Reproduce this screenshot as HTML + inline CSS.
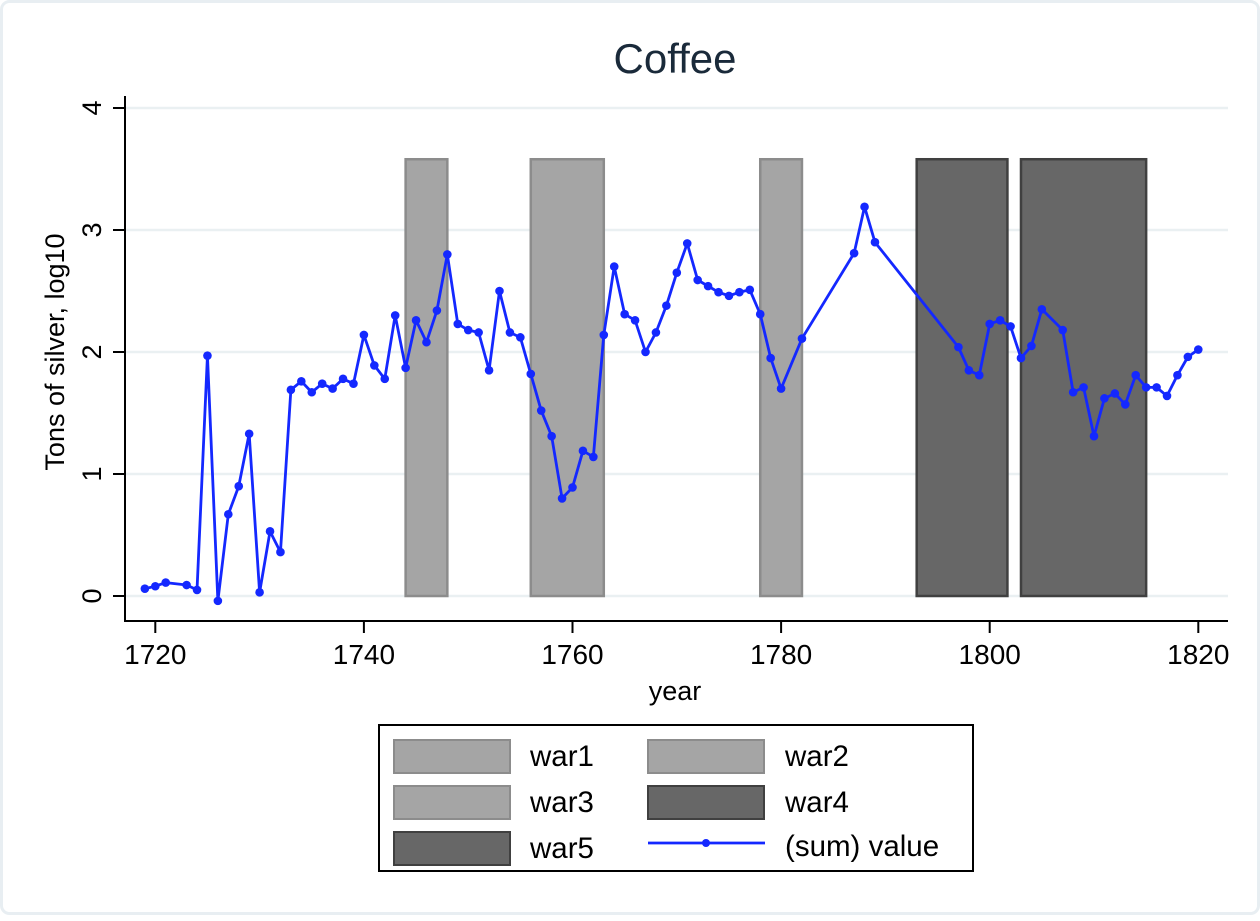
<!DOCTYPE html>
<html><head><meta charset="utf-8"><style>
html,body{margin:0;padding:0;background:#fff;}
svg text{font-family:"Liberation Sans",Arial,sans-serif;}
</style></head><body>
<svg id="chart" width="1260" height="916" xmlns="http://www.w3.org/2000/svg">
<rect x="1.5" y="1.5" width="1257" height="912" rx="8" fill="#fff" stroke="#e8eef2" stroke-width="3"/>
<text x="675" y="73" font-size="42" text-anchor="middle" fill="#1a2a3a">Coffee</text>
<g id="grid"></g>
<g id="wars"></g>
<g id="series"></g>
<g id="axes"></g>
<text transform="translate(64,352) rotate(-90)" font-size="27" text-anchor="middle">Tons of silver, log10</text>
<text x="675" y="700" font-size="27" text-anchor="middle">year</text>
<g>
<rect x="379" y="725" width="594" height="146" fill="#fff" stroke="#000" stroke-width="2"/>
<rect x="394" y="740" width="116" height="33" fill="#a5a5a5" stroke="#8c8c8c" stroke-width="2"/>
<text x="530" y="766" font-size="29.5">war1</text>
<rect x="648" y="740" width="116" height="33" fill="#a5a5a5" stroke="#8c8c8c" stroke-width="2"/>
<text x="785" y="766" font-size="29.5">war2</text>
<rect x="394" y="786" width="116" height="33" fill="#a5a5a5" stroke="#8c8c8c" stroke-width="2"/>
<text x="530" y="812" font-size="29.5">war3</text>
<rect x="648" y="786" width="116" height="33" fill="#676767" stroke="#404040" stroke-width="2"/>
<text x="785" y="812" font-size="29.5">war4</text>
<rect x="394" y="832" width="116" height="33" fill="#676767" stroke="#404040" stroke-width="2"/>
<text x="530" y="858" font-size="29.5">war5</text>
<line x1="648" y1="843" x2="765" y2="843" stroke="#1428ff" stroke-width="2.8"/>
<circle cx="706" cy="843" r="4" fill="#1428ff"/>
<text x="785" y="856" font-size="29.5">(sum) value</text>
</g>
</svg>
<script>
const years=[1719,1720,1721,1723,1724,1725,1726,1727,1728,1729,1730,1731,1732,1733,1734,1735,1736,1737,1738,1739,1740,1741,1742,1743,1744,1745,1746,1747,1748,1749,1750,1751,1752,1753,1754,1755,1756,1757,1758,1759,1760,1761,1762,1763,1764,1765,1766,1767,1768,1769,1770,1771,1772,1773,1774,1775,1776,1777,1778,1779,1780,1782,1787,1788,1789,1797,1798,1799,1800,1801,1802,1803,1804,1805,1807,1808,1809,1810,1811,1812,1813,1814,1815,1816,1817,1818,1819,1820];
const values=[0.06,0.08,0.11,0.09,0.05,1.97,-0.04,0.67,0.90,1.33,0.03,0.53,0.36,1.69,1.76,1.67,1.74,1.70,1.78,1.74,2.14,1.89,1.78,2.30,1.87,2.26,2.08,2.34,2.80,2.23,2.18,2.16,1.85,2.50,2.16,2.12,1.82,1.52,1.31,0.80,0.89,1.19,1.14,2.14,2.70,2.31,2.26,2.00,2.16,2.38,2.65,2.89,2.59,2.54,2.49,2.46,2.49,2.51,2.31,1.95,1.70,2.11,2.81,3.19,2.90,2.04,1.85,1.81,2.23,2.26,2.21,1.95,2.05,2.35,2.18,1.67,1.71,1.31,1.62,1.66,1.57,1.81,1.71,1.71,1.64,1.81,1.96,2.02];
const warStart=[1744,1756,1778,1793,1803];
const warEnd=[1748,1763,1782,1801.7,1815];
const warHeight=[3.58,3.58,3.58,3.58,3.58];
const warDark=[false,false,false,true,true];
const xTicks=[1720,1740,1760,1780,1800,1820];
const yTicks=[0,1,2,3,4];
const NS='http://www.w3.org/2000/svg';
const X=v=>155.3+(v-1720)*10.43;
const Y=v=>596-v*122;
function mk(tag,attrs,parent){const e=document.createElementNS(NS,tag);for(const k in attrs)e.setAttribute(k,attrs[k]);parent.appendChild(e);return e;}
const grid=document.getElementById('grid'),wars=document.getElementById('wars'),series=document.getElementById('series'),axes=document.getElementById('axes');
yTicks.forEach(t=>{const l=mk('line',{x1:126,x2:1228,y1:Y(t),y2:Y(t),stroke:'#eaf0f2','stroke-width':2.5},grid);

});
warStart.forEach((s,i)=>{const r=mk('rect',{x:X(s),y:Y(warHeight[i]),width:X(warEnd[i])-X(s),height:Y(0)-Y(warHeight[i]),fill:warDark[i]?'#676767':'#a5a5a5',stroke:warDark[i]?'#404040':'#8c8c8c','stroke-width':2.5},wars);

});
const p=mk('polyline',{points:years.map((y,i)=>X(y)+','+Y(values[i])).join(' '),fill:'none',stroke:'#1428ff','stroke-width':2.8,'stroke-linejoin':'round'},series);


years.forEach((y,i)=>{const c=mk('circle',{cx:X(y),cy:Y(values[i]),r:4.3,fill:'#1428ff'},series);

});
mk('line',{x1:125,x2:125,y1:96,y2:621,stroke:'#000','stroke-width':2},axes);
mk('line',{x1:124,x2:1228,y1:621,y2:621,stroke:'#000','stroke-width':2},axes);
yTicks.forEach(t=>{mk('line',{x1:113,x2:125,y1:Y(t),y2:Y(t),stroke:'#000','stroke-width':2},axes);
const tx=mk('text',{transform:`translate(101,${Y(t)}) rotate(-90)`,'font-size':27,'text-anchor':'middle'},axes);tx.textContent=t;

});
xTicks.forEach(t=>{mk('line',{x1:X(t),x2:X(t),y1:621,y2:633,stroke:'#000','stroke-width':2},axes);
const tx=mk('text',{x:X(t),y:664,'font-size':28,'text-anchor':'middle'},axes);tx.textContent=t;

});
</script>
</body></html>
